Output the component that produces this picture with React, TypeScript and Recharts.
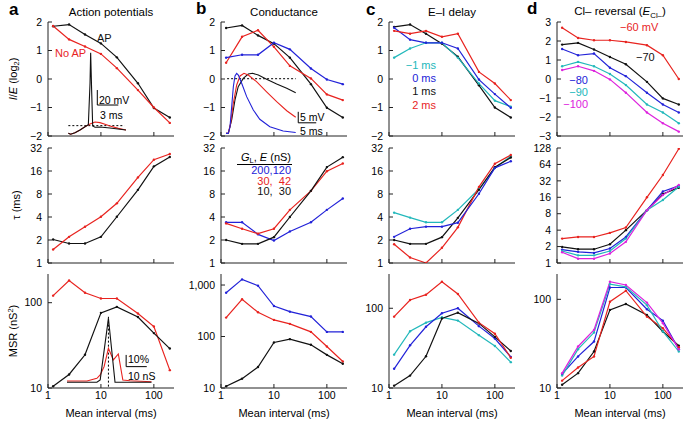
import React from 'react';
import { LineChart, Line, XAxis, YAxis, ReferenceLine } from 'recharts';

const FONT = '"Liberation Sans", Arial, Helvetica, sans-serif';
const BLACK = '#111111';
const RED = '#e8231f';
const BLUE = '#2222d8';
const CYAN = '#22b8bb';
const MAGENTA = '#dd22dd';

// mean interval between inputs (ms), shared x values of every panel
const intervals = [1.25, 2.5, 5, 10, 20, 50, 100, 200];
const xTicks = [1, 10, 100];

// row 1: I/E (log2)
const ieA_ap = [1.85, 1.91, 1.56, 1.25, 0.76, -0.15, -1.02, -1.35];
const ieA_noAp = [1.86, 1.39, 1.14, 0.88, 0.38, -0.39, -1.0, -1.54];
const ieB_10_30 = [1.79, 1.88, 1.53, 1.24, 0.75, -0.18, -1.01, -1.35];
const ieB_30_42 = [0.57, 1.48, 1.71, 1.13, 0.46, 0.02, -0.54, -0.74];
const ieB_200_120 = [0.75, 0.85, 0.85, 1.27, 1.04, 0.37, -0.02, -0.18];
const ieC_m1 = [0.75, 1.07, 1.27, 1.27, 0.75, -0.16, -0.76, -0.97];
const ieC_0 = [1.8, 1.38, 1.27, 1.27, 1.07, -0.02, -0.53, -1.01];
const ieC_1 = [1.83, 1.91, 1.59, 1.24, 0.78, -0.22, -1.0, -1.35];
const ieC_2 = [1.69, 1.59, 1.69, 1.48, 1.59, 0.25, -0.16, -0.74];
const ieD_60 = [2.7, 2.16, 2.04, 2.04, 1.95, 1.78, 1.25, 0.0];
const ieD_70 = [1.81, 1.9, 1.55, 1.16, 0.78, -0.15, -1.02, -1.34];
const ieD_80 = [1.58, 1.25, 1.34, 0.59, 0.15, -0.72, -1.34, -1.76];
const ieD_90 = [0.67, 0.9, 0.67, 0.26, -0.32, -1.34, -1.76, -2.33];
const ieD_100 = [0.47, 0.67, 0.43, -0.02, -0.72, -1.76, -2.33, -2.77];

// row 2: tau (ms)
const tauA_ap = [2.03, 1.8, 1.8, 2.2, 4.03, 9.06, 18.4, 24.4];
const tauA_noAp = [1.5, 2.2, 2.98, 4.03, 6.04, 13.2, 22.5, 26.7];
const tauB_200_120 = [3.41, 3.41, 2.37, 1.97, 2.59, 3.41, 4.96, 7.0];
const tauB_30_42 = [3.3, 2.81, 2.42, 2.81, 4.96, 8.8, 15.9, 20.1];
const tauB_10_30 = [2.0, 1.78, 1.78, 2.18, 4.0, 8.8, 18.0, 24.3];
const tauC_m1 = [4.56, 3.93, 3.41, 3.41, 4.96, 9.3, 17.5, 25];
const tauC_0 = [2.2, 2.81, 2.99, 2.99, 3.37, 8.06, 17.6, 21.5];
const tauC_1 = [2.0, 1.78, 1.78, 2.18, 3.9, 9.1, 17.9, 24];
const tauC_2 = [1.76, 1.18, 1.0, 1.58, 2.93, 9.9, 19.9, 25.9];
const tauD_60 = [2.8, 3.0, 3.0, 3.57, 4.47, 16, 41, 124];
const tauD_70 = [1.97, 1.79, 1.79, 2.2, 4.0, 9.3, 18.4, 24];
const tauD_80 = [1.76, 1.6, 1.53, 1.84, 3.0, 9.3, 20.4, 25.9];
const tauD_90 = [1.66, 1.38, 1.38, 1.66, 2.8, 9.3, 14.3, 25];
const tauD_100 = [1.57, 1.2, 1.2, 1.49, 2.44, 9.3, 17.6, 27];

// row 3: MSR (nS^2)
const msrA_noAp = [121, 182, 131, 112, 112, 74.6, 52.6, 16.2];
const msrA_ap = [10.5, 14.4, 24.5, 76, 89.4, 68, 44, 29];
const msrB_200_120 = [708, 1285, 973, 391, 304, 244, 123, 123];
const msrB_30_42 = [233, 528, 295, 210, 176, 123, 64, 32.8];
const msrB_10_30 = [10.8, 15.2, 25.5, 76.6, 88.8, 69, 44, 29.6];
const msrC_2 = [78.5, 127, 148, 215, 151, 66, 48, 24];
const msrC_0 = [17.4, 34.3, 58.6, 86.5, 100, 59.7, 41.7, 24.5];
const msrC_m1 = [26.2, 51.6, 66, 77, 70, 46, 33.7, 21.1];
const msrC_1 = [10.7, 14.3, 25, 74.6, 88, 64.6, 43.8, 29.1];
const msrD_100 = [14.7, 29.4, 45.2, 158, 145, 91.8, 53.8, 27.4];
const msrD_90 = [13.8, 27.4, 42.2, 148, 138, 86, 43.4, 25.8];
const msrD_80 = [14.4, 22.7, 33.4, 136, 136, 77.3, 57.5, 27.4];
const msrD_60 = [12.1, 17, 22.7, 94, 125, 63.8, 47.2, 28.9];
const msrD_70 = [10.9, 14.7, 25.8, 76, 88.7, 66.7, 43.4, 29.9];

// inset a1: membrane potential (ms, mV)
const apTime = [0.19, 0.52, 1.14, 1.86, 2.57, 3.05, 3.29, 3.38, 3.52, 3.67, 4.0, 4.71, 6.14, 8.43];
const apVolt = [-0.4, -1.7, 0.4, 4, 8.4, 11.1, 66.3, 107, 57.3, 9.3, 7.6, 8, 6.7, 4];
const noApTime = [0.19, 0.52, 1.14, 1.86, 2.57, 3.29, 4.0, 4.71, 5.43, 6.14, 7.33, 8.43];
const noApVolt = [-0.4, -1.7, 0.4, 4, 8.4, 12, 14.7, 13.8, 11.6, 9.3, 6.2, 4];

// inset b1: PSPs (ms, mV)
const pspBlueT = [0, 0.64, 1.11, 1.58, 2.04, 2.5, 2.97, 3.43, 4.36, 5.75, 7.6, 9.4, 12.2, 15.9, 19.4];
const pspBlueV = [0, 0, 3.0, 12.1, 21.2, 26.1, 27.3, 26.5, 22.8, 16.7, 10.6, 6.4, 3.0, 1.1, 0.4];
const pspRedT = [0, 0.64, 1.3, 2.04, 2.97, 3.9, 5.0, 6.2, 8.5, 11.3, 14.1, 16.9, 19.4];
const pspRedV = [0, 0, 4.6, 13.7, 22, 26.1, 27.3, 26.5, 23.5, 18.9, 14.4, 10.3, 7.3];
const pspBlackT = [0, 0.64, 1.58, 2.5, 3.4, 4.8, 6.2, 7.4, 9.0, 11.3, 14.1, 16.9, 19.4];
const pspBlackV = [0, 0, 6.1, 15.2, 21.2, 25, 27, 27.3, 26.5, 24.6, 22.4, 20.5, 18.5];

// inset a3: conductance histograms (nS, %)
const histApG = [0, 14.5, 16.1, 20.1, 23.3, 41];
const histApP = [0, 0, 2, 54.7, 0, 0];
const histNoApG = [0, 9.7, 14.5, 16.1, 18, 20.1, 22.5, 24.9, 27.1, 30.6, 41];
const histNoApP = [1.1, 1.1, 3.4, 6.3, 13.4, 29.1, 19.1, 24.2, 2.0, 1.4, 0.5];

const pts = (xs: number[], ys: number[]) => xs.map((x, i) => ({ x, y: ys[i] }));

const fmtY = (v: number) => (v === 1000 ? '1,000' : String(v).replace('-', '\u2212'));

type Series = { name: string; color: string; values: number[] };

const PAD = 8;

function Panel({ left, top, h, yDomain, yTicks, log, series, showX }: any) {
  const w = 126;
  const data = intervals.map((t, i) => {
    const row: any = { t };
    series.forEach((s: Series) => {
      row[s.name] = s.values[i];
    });
    return row;
  });
  const common = {
    stroke: '#222',
    tick: { fill: '#000', fontSize: 10.5, fontFamily: FONT },
    tickSize: -4,
    allowDataOverflow: true,
    interval: 0 as const,
    type: 'number' as const,
  };
  return (
    <div style={{ position: 'absolute', left: left - 40, top: top - PAD }}>
      <LineChart width={w + 42} height={h + PAD + 30} data={data} margin={{ top: PAD, right: 2, left: 0, bottom: 0 }}>
        <XAxis xAxisId="b" dataKey="t" scale="log" domain={[1, 240]} ticks={xTicks} height={30} tickMargin={8}
          tickFormatter={showX ? (v: number) => String(v) : () => ''} {...common} />
        <XAxis xAxisId="top" orientation="top" dataKey="t" scale="log" domain={[1, 240]} ticks={xTicks} height={0}
          tickFormatter={() => ''} {...common} />
        <YAxis yAxisId="l" scale={log ? 'log' : 'linear'} domain={yDomain} ticks={yTicks} width={40} tickMargin={10}
          tickFormatter={fmtY} {...common} />
        <YAxis yAxisId="r" orientation="right" scale={log ? 'log' : 'linear'} domain={yDomain} ticks={yTicks} width={0}
          tickFormatter={() => ''} {...common} />
        {series.map((s: Series) => (
          <Line key={s.name} xAxisId="b" yAxisId="l" dataKey={s.name} stroke={s.color} strokeWidth={1.2}
            dot={{ r: 1.2, fill: s.color, stroke: s.color, strokeWidth: 0 }} isAnimationActive={false} />
        ))}
      </LineChart>
    </div>
  );
}

function Inset({ left, top, w, h, xDomain, yDomain, traces, children }: any) {
  return (
    <div style={{ position: 'absolute', left, top }}>
      <LineChart width={w} height={h} margin={{ top: 0, right: 0, left: 0, bottom: 0 }}>
        <XAxis type="number" dataKey="x" domain={xDomain} hide allowDataOverflow />
        <YAxis type="number" domain={yDomain} hide allowDataOverflow />
        {children}
        {traces.map((tr: any, i: number) => (
          <Line key={i} data={tr.data} dataKey="y" stroke={tr.color} strokeWidth={1.1} dot={false} isAnimationActive={false} />
        ))}
      </LineChart>
    </div>
  );
}

function Txt({ x, y, a = 'start', size = 11, color = '#000', bold = false, children }: any) {
  const tx = a === 'start' ? '0' : a === 'middle' ? '-50%' : '-100%';
  return (
    <div style={{ position: 'absolute', left: x, top: y, transform: `translate(${tx}, -50%)`, fontSize: size, color,
      fontWeight: bold ? 'bold' : 'normal', whiteSpace: 'pre', lineHeight: 1 }}>
      {children}
    </div>
  );
}

function VTxt({ x, y, children }: any) {
  return (
    <div style={{ position: 'absolute', left: x, top: y, transform: 'translate(-50%, -50%) rotate(-90deg)', fontSize: 11,
      whiteSpace: 'nowrap', lineHeight: 1 }}>
      {children}
    </div>
  );
}

const bar = { stroke: '#000', strokeWidth: 1, ifOverflow: 'visible' as const };
const sub = { fontSize: '0.68em', verticalAlign: '-0.3em' };

const cols = [48, 221, 389, 557];
const rowTop = [22, 148, 274];

export default function App() {
  const lin2 = [-2, -1, 0, 1, 2];
  const tauTicks = [1, 2, 4, 8, 16, 32];
  return (
    <div style={{ position: 'absolute', left: 0, top: 0, width: 685, height: 421, background: '#fff', fontFamily: FONT, color: '#000', overflow: 'hidden' }}>
      {/* row 1 */}
      <Panel left={cols[0]} top={rowTop[0]} h={114} yDomain={[-2, 2]} yTicks={lin2}
        series={[{ name: 'ap', color: BLACK, values: ieA_ap }, { name: 'noap', color: RED, values: ieA_noAp }]} />
      <Panel left={cols[1]} top={rowTop[0]} h={114} yDomain={[-2, 2]} yTicks={lin2}
        series={[{ name: 'g10', color: BLACK, values: ieB_10_30 }, { name: 'g30', color: RED, values: ieB_30_42 }, { name: 'g200', color: BLUE, values: ieB_200_120 }]} />
      <Panel left={cols[2]} top={rowTop[0]} h={114} yDomain={[-2, 2]} yTicks={lin2}
        series={[{ name: 'd1', color: BLACK, values: ieC_1 }, { name: 'dm1', color: CYAN, values: ieC_m1 }, { name: 'd0', color: BLUE, values: ieC_0 }, { name: 'd2', color: RED, values: ieC_2 }]} />
      <Panel left={cols[3]} top={rowTop[0]} h={114} yDomain={[-3, 3]} yTicks={[-3, -2, -1, 0, 1, 2, 3]}
        series={[{ name: 'e60', color: RED, values: ieD_60 }, { name: 'e70', color: BLACK, values: ieD_70 }, { name: 'e80', color: BLUE, values: ieD_80 }, { name: 'e90', color: CYAN, values: ieD_90 }, { name: 'e100', color: MAGENTA, values: ieD_100 }]} />

      {/* row 2 */}
      <Panel left={cols[0]} top={rowTop[1]} h={115} log yDomain={[1, 32]} yTicks={tauTicks}
        series={[{ name: 'ap', color: BLACK, values: tauA_ap }, { name: 'noap', color: RED, values: tauA_noAp }]} />
      <Panel left={cols[1]} top={rowTop[1]} h={115} log yDomain={[1, 32]} yTicks={tauTicks}
        series={[{ name: 'g200', color: BLUE, values: tauB_200_120 }, { name: 'g30', color: RED, values: tauB_30_42 }, { name: 'g10', color: BLACK, values: tauB_10_30 }]} />
      <Panel left={cols[2]} top={rowTop[1]} h={115} log yDomain={[1, 32]} yTicks={tauTicks}
        series={[{ name: 'dm1', color: CYAN, values: tauC_m1 }, { name: 'd1', color: BLACK, values: tauC_1 }, { name: 'd2', color: RED, values: tauC_2 }, { name: 'd0', color: BLUE, values: tauC_0 }]} />
      <Panel left={cols[3]} top={rowTop[1]} h={115} log yDomain={[1, 128]} yTicks={[1, 2, 4, 8, 16, 32, 64, 128]}
        series={[{ name: 'e60', color: RED, values: tauD_60 }, { name: 'e70', color: BLACK, values: tauD_70 }, { name: 'e80', color: BLUE, values: tauD_80 }, { name: 'e90', color: CYAN, values: tauD_90 }, { name: 'e100', color: MAGENTA, values: tauD_100 }]} />

      {/* row 3 */}
      <Panel left={cols[0]} top={rowTop[2]} h={114} log showX yDomain={[10, 217]} yTicks={[10, 100]}
        series={[{ name: 'noap', color: RED, values: msrA_noAp }, { name: 'ap', color: BLACK, values: msrA_ap }]} />
      <Panel left={cols[1]} top={rowTop[2]} h={114} log showX yDomain={[10, 1637]} yTicks={[10, 100, 1000]}
        series={[{ name: 'g200', color: BLUE, values: msrB_200_120 }, { name: 'g30', color: RED, values: msrB_30_42 }, { name: 'g10', color: BLACK, values: msrB_10_30 }]} />
      <Panel left={cols[2]} top={rowTop[2]} h={114} log showX yDomain={[10, 269]} yTicks={[10, 100]}
        series={[{ name: 'dm1', color: CYAN, values: msrC_m1 }, { name: 'd0', color: BLUE, values: msrC_0 }, { name: 'd1', color: BLACK, values: msrC_1 }, { name: 'd2', color: RED, values: msrC_2 }]} />
      <Panel left={cols[3]} top={rowTop[2]} h={114} log showX yDomain={[10, 193]} yTicks={[10, 100]}
        series={[{ name: 'e70', color: BLACK, values: msrD_70 }, { name: 'e60', color: RED, values: msrD_60 }, { name: 'e80', color: BLUE, values: msrD_80 }, { name: 'e90', color: CYAN, values: msrD_90 }, { name: 'e100', color: MAGENTA, values: msrD_100 }]} />

      {/* insets */}
      <Inset left={67} top={52} w={59} h={84} xDomain={[0, 8.43]} yDomain={[-4, 108]}
        traces={[{ color: RED, data: pts(noApTime, noApVolt) }, { color: BLACK, data: pts(apTime, apVolt) }]}>
        <ReferenceLine segment={[{ x: 0.19, y: 9.8 }, { x: 8.2, y: 9.8 }]} stroke="#000" strokeDasharray="2 2" ifOverflow="visible" />
        <ReferenceLine segment={[{ x: 4.33, y: 37.3 }, { x: 4.33, y: 57.3 }]} {...bar} />
        <ReferenceLine segment={[{ x: 4.33, y: 37.3 }, { x: 7.33, y: 37.3 }]} {...bar} />
      </Inset>
      <Inset left={226} top={52} w={92} h={84} xDomain={[0, 25.6]} yDomain={[-1.2, 37]}
        traces={[{ color: BLACK, data: pts(pspBlackT, pspBlackV) }, { color: RED, data: pts(pspRedT, pspRedV) }, { color: BLUE, data: pts(pspBlueT, pspBlueV) }]}>
        <ReferenceLine segment={[{ x: 0.3, y: 24.85 }, { x: 19.4, y: 24.85 }]} stroke="#000" strokeDasharray="2 2" ifOverflow="visible" />
        <ReferenceLine segment={[{ x: 20.1, y: 4.8 }, { x: 20.1, y: 9.8 }]} {...bar} />
        <ReferenceLine segment={[{ x: 20.1, y: 4.8 }, { x: 25.1, y: 4.8 }]} {...bar} />
      </Inset>
      <Inset left={67} top={310} w={88} h={77} xDomain={[0, 42.7]} yDomain={[-4, 61.8]}
        traces={[{ color: RED, data: pts(histNoApG, histNoApP) }, { color: BLACK, data: pts(histApG, histApP) }]}>
        <ReferenceLine segment={[{ x: 20.1, y: -3.7 }, { x: 20.1, y: 56 }]} stroke="#000" strokeDasharray="2 2" ifOverflow="visible" />
        <ReferenceLine segment={[{ x: 28.7, y: 13.4 }, { x: 28.7, y: 23.4 }]} {...bar} />
        <ReferenceLine segment={[{ x: 28.7, y: 13.4 }, { x: 38.7, y: 13.4 }]} {...bar} />
      </Inset>

      {/* panel letters and titles */}
      <Txt x={9} y={9} size={17} bold>a</Txt>
      <Txt x={196} y={8} size={17} bold>b</Txt>
      <Txt x={366} y={9} size={17} bold>c</Txt>
      <Txt x={527} y={8} size={17} bold>d</Txt>
      <Txt x={111} y={13} a="middle" size={11.5}>Action potentials</Txt>
      <Txt x={284} y={13} a="middle" size={11.5}>Conductance</Txt>
      <Txt x={452} y={13} a="middle" size={11.5}>E–I delay</Txt>
      <Txt x={620} y={13} a="middle" size={11.5}>Cl– reversal (<i>E</i><span style={sub}>Cl–</span>)</Txt>

      {/* axis labels */}
      <VTxt x={14} y={79}><i>I</i>/<i>E</i> (log<span style={sub}>2</span>)</VTxt>
      <VTxt x={16} y={205}>τ (ms)</VTxt>
      <VTxt x={13} y={331}>MSR (nS<span style={{ fontSize: '0.68em', verticalAlign: '0.45em' }}>2</span>)</VTxt>
      {cols.map((c) => (
        <Txt key={c} x={c + 63} y={413} a="middle" size={11}>Mean interval (ms)</Txt>
      ))}

      {/* annotations */}
      <Txt x={97} y={38} color={BLACK}>AP</Txt>
      <Txt x={55} y={53} color={RED}>No AP</Txt>
      <Txt x={99} y={100} size={10.5}>20 mV</Txt>
      <Txt x={100} y={115} size={10.5}>3 ms</Txt>
      <Txt x={300} y={116.5} size={10.5}>5 mV</Txt>
      <Txt x={300} y={131} size={10.5}>5 ms</Txt>
      <Txt x={128} y={359} size={10.5}>10%</Txt>
      <Txt x={128} y={376} size={10.5}>10 nS</Txt>

      <Txt x={291} y={158} a="end"><i>G</i><span style={sub}>L</span>, <i>E</i> (nS)</Txt>
      <div style={{ position: 'absolute', left: 237, top: 164, width: 55, height: 1, background: '#000' }} />
      <Txt x={291} y={170} a="end" color={BLUE}>200,120</Txt>
      <Txt x={291} y={180.5} a="end" color={RED}>30,  42</Txt>
      <Txt x={291} y={191} a="end" color={BLACK}>10,  30</Txt>

      <Txt x={436} y={65} a="end" color={CYAN}>−1 ms</Txt>
      <Txt x={436} y={77.5} a="end" color={BLUE}>0 ms</Txt>
      <Txt x={436} y={90.5} a="end" color={BLACK}>1 ms</Txt>
      <Txt x={436} y={105} a="end" color={RED}>2 ms</Txt>

      <Txt x={620} y={27} color={RED}>−60 mV</Txt>
      <Txt x={636} y={57} color={BLACK}>−70</Txt>
      <Txt x={588} y={80} a="end" color={BLUE}>−80</Txt>
      <Txt x={588} y={92} a="end" color={CYAN}>−90</Txt>
      <Txt x={588} y={103.5} a="end" color={MAGENTA}>−100</Txt>
    </div>
  );
}
